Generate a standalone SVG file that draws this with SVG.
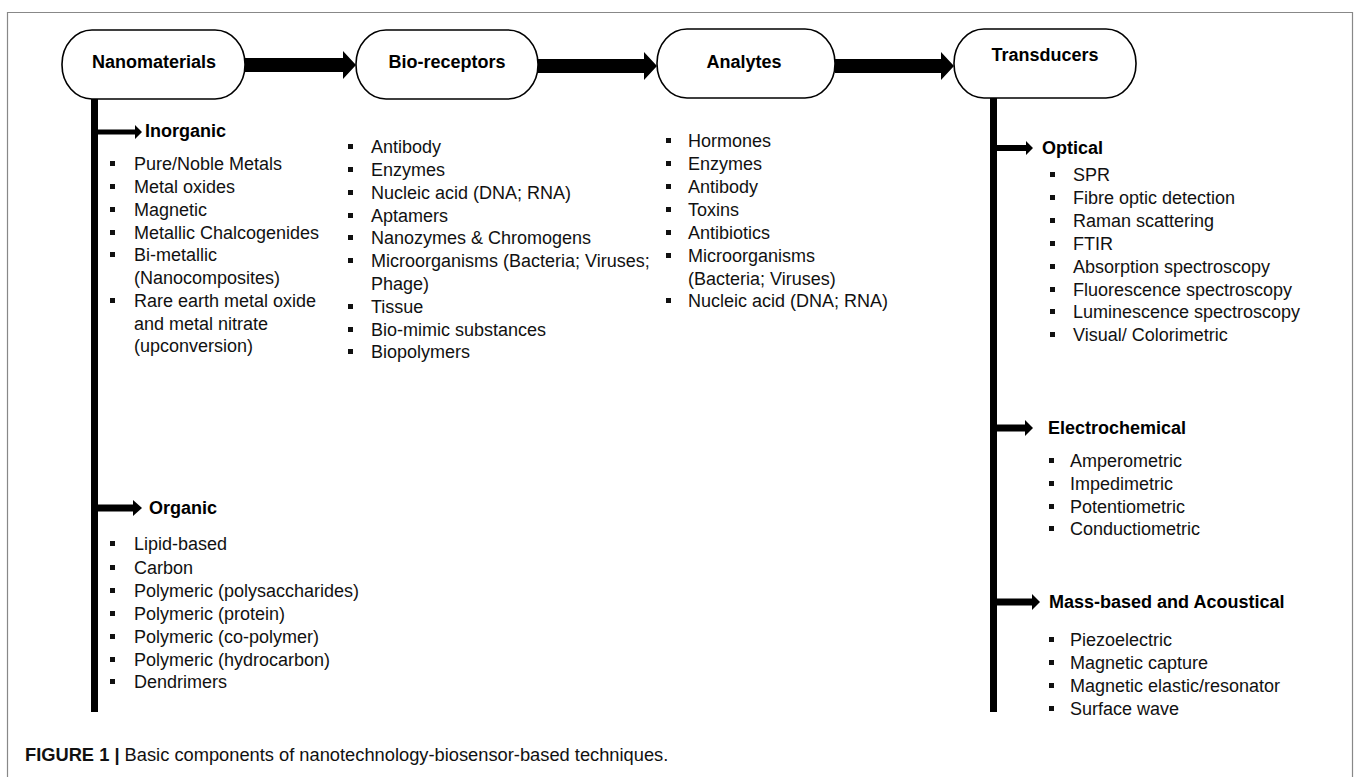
<svg xmlns="http://www.w3.org/2000/svg" width="1355" height="777" viewBox="0 0 1355 777">
<style>
.node{fill:#fff;stroke:#000;stroke-width:1.6}
.title{font-family:"Liberation Sans",Arial,sans-serif;font-size:18px;font-weight:bold;fill:#000;text-anchor:middle}
.head{font-family:"Liberation Sans",Arial,sans-serif;font-size:18px;font-weight:bold;fill:#000}
.item{font-family:"Liberation Sans",Arial,sans-serif;font-size:18px;fill:#111}
.cap{font-family:"Liberation Sans",Arial,sans-serif;font-size:18.3px;fill:#111}
.arr{fill:#000}
.frame{stroke:#888;stroke-width:1.2;fill:none}
</style>
<defs>
<rect id="b" width="5" height="5" fill="#111"/>
</defs>
<rect width="1355" height="777" fill="#fff"/>
<path class="frame" d="M7.5,790 V12.5 H1352.5 V790"/>

<g id="connectors">
  <polygon class="arr" points="244,58 343,58 343,51 356,65 343,79 343,72 244,72"/>
  <polygon class="arr" points="538,59 644,59 644,52 657,66 644,80 644,73 538,73"/>
  <polygon class="arr" points="835,59 941,59 941,52 954,66 941,80 941,73 835,73"/>
  <rect class="arr" x="91" y="99" width="7" height="613"/>
  <rect class="arr" x="990" y="98" width="7" height="614"/>
  <polygon class="arr" points="98,129.5 135,129.5 135,125 142,132 135,139 135,134.5 98,134.5"/>
  <polygon class="arr" points="98,504.5 133,504.5 133,500 142,508 133,516 133,511.5 98,511.5"/>
  <polygon class="arr" points="997,145 1026,145 1026,141 1033,148 1026,155 1026,151 997,151"/>
  <polygon class="arr" points="997,424.5 1025,424.5 1025,420 1033,428 1025,436 1025,431.5 997,431.5"/>
  <polygon class="arr" points="997,598.5 1032,598.5 1032,594 1040,602 1032,610 1032,605.5 997,605.5"/>
</g>

<g id="nanomaterials">
  <rect class="node" x="62" y="30" width="183" height="69" rx="30" ry="34"/>
  <text class="title" x="154" y="68">Nanomaterials</text>
</g>
<g id="bio-receptors">
  <rect class="node" x="356" y="30" width="182" height="69" rx="30" ry="34"/>
  <text class="title" x="447" y="68">Bio-receptors</text>
</g>
<g id="analytes">
  <rect class="node" x="657" y="29" width="178" height="69" rx="30" ry="34"/>
  <text class="title" x="744" y="68">Analytes</text>
</g>
<g id="transducers">
  <rect class="node" x="954" y="29" width="182" height="69" rx="30" ry="34"/>
  <text class="title" x="1045" y="61">Transducers</text>
</g>

<g id="inorganic">
  <text class="head" x="145" y="137">Inorganic</text>
  <use href="#b" x="110" y="161"/><text class="item" x="134" y="170">Pure/Noble Metals</text>
  <use href="#b" x="110" y="184"/><text class="item" x="134" y="193">Metal oxides</text>
  <use href="#b" x="110" y="207"/><text class="item" x="134" y="216">Magnetic</text>
  <use href="#b" x="110" y="230"/><text class="item" x="134" y="239">Metallic Chalcogenides</text>
  <use href="#b" x="110" y="252"/><text class="item" x="134" y="261">Bi-metallic</text>
  <text class="item" x="134" y="284">(Nanocomposites)</text>
  <use href="#b" x="110" y="298"/><text class="item" x="134" y="307">Rare earth metal oxide</text>
  <text class="item" x="134" y="330">and metal nitrate</text>
  <text class="item" x="134" y="352">(upconversion)</text>
</g>

<g id="organic">
  <text class="head" x="149" y="514">Organic</text>
  <use href="#b" x="110" y="541"/><text class="item" x="134" y="550">Lipid-based</text>
  <use href="#b" x="110" y="565"/><text class="item" x="134" y="574">Carbon</text>
  <use href="#b" x="110" y="588"/><text class="item" x="134" y="597">Polymeric (polysaccharides)</text>
  <use href="#b" x="110" y="611"/><text class="item" x="134" y="620">Polymeric (protein)</text>
  <use href="#b" x="110" y="634"/><text class="item" x="134" y="643">Polymeric (co-polymer)</text>
  <use href="#b" x="110" y="657"/><text class="item" x="134" y="666">Polymeric (hydrocarbon)</text>
  <use href="#b" x="110" y="679"/><text class="item" x="134" y="688">Dendrimers</text>
</g>

<g id="bio-receptor-list">
  <use href="#b" x="348" y="144"/><text class="item" x="371" y="153">Antibody</text>
  <use href="#b" x="348" y="167"/><text class="item" x="371" y="176">Enzymes</text>
  <use href="#b" x="348" y="190"/><text class="item" x="371" y="199">Nucleic acid (DNA; RNA)</text>
  <use href="#b" x="348" y="213"/><text class="item" x="371" y="222">Aptamers</text>
  <use href="#b" x="348" y="235"/><text class="item" x="371" y="244">Nanozymes &amp; Chromogens</text>
  <use href="#b" x="348" y="258"/><text class="item" x="371" y="267">Microorganisms (Bacteria; Viruses;</text>
  <text class="item" x="371" y="290">Phage)</text>
  <use href="#b" x="348" y="304"/><text class="item" x="371" y="313">Tissue</text>
  <use href="#b" x="348" y="327"/><text class="item" x="371" y="336">Bio-mimic substances</text>
  <use href="#b" x="348" y="349"/><text class="item" x="371" y="358">Biopolymers</text>
</g>

<g id="analyte-list">
  <use href="#b" x="666" y="138"/><text class="item" x="688" y="147">Hormones</text>
  <use href="#b" x="666" y="161"/><text class="item" x="688" y="170">Enzymes</text>
  <use href="#b" x="666" y="184"/><text class="item" x="688" y="193">Antibody</text>
  <use href="#b" x="666" y="207"/><text class="item" x="688" y="216">Toxins</text>
  <use href="#b" x="666" y="230"/><text class="item" x="688" y="239">Antibiotics</text>
  <use href="#b" x="666" y="253"/><text class="item" x="688" y="262">Microorganisms</text>
  <text class="item" x="688" y="285">(Bacteria; Viruses)</text>
  <use href="#b" x="666" y="298"/><text class="item" x="688" y="307">Nucleic acid (DNA; RNA)</text>
</g>

<g id="optical">
  <text class="head" x="1042" y="154">Optical</text>
  <use href="#b" x="1050" y="172"/><text class="item" x="1073" y="181">SPR</text>
  <use href="#b" x="1050" y="195"/><text class="item" x="1073" y="204">Fibre optic detection</text>
  <use href="#b" x="1050" y="218"/><text class="item" x="1073" y="227">Raman scattering</text>
  <use href="#b" x="1050" y="241"/><text class="item" x="1073" y="250">FTIR</text>
  <use href="#b" x="1050" y="264"/><text class="item" x="1073" y="273">Absorption spectroscopy</text>
  <use href="#b" x="1050" y="287"/><text class="item" x="1073" y="296">Fluorescence spectroscopy</text>
  <use href="#b" x="1050" y="309"/><text class="item" x="1073" y="318">Luminescence spectroscopy</text>
  <use href="#b" x="1050" y="332"/><text class="item" x="1073" y="341">Visual/ Colorimetric</text>
</g>

<g id="electrochemical">
  <text class="head" x="1048" y="434">Electrochemical</text>
  <use href="#b" x="1049" y="458"/><text class="item" x="1070" y="467">Amperometric</text>
  <use href="#b" x="1049" y="481"/><text class="item" x="1070" y="490">Impedimetric</text>
  <use href="#b" x="1049" y="504"/><text class="item" x="1070" y="513">Potentiometric</text>
  <use href="#b" x="1049" y="526"/><text class="item" x="1070" y="535">Conductiometric</text>
</g>

<g id="mass-based">
  <text class="head" x="1049" y="608">Mass-based and Acoustical</text>
  <use href="#b" x="1049" y="637"/><text class="item" x="1070" y="646">Piezoelectric</text>
  <use href="#b" x="1049" y="660"/><text class="item" x="1070" y="669">Magnetic capture</text>
  <use href="#b" x="1049" y="683"/><text class="item" x="1070" y="692">Magnetic elastic/resonator</text>
  <use href="#b" x="1049" y="706"/><text class="item" x="1070" y="715">Surface wave</text>
</g>

<g id="caption">
  <text class="cap" x="25" y="761"><tspan font-weight="bold">FIGURE 1 | </tspan>Basic components of nanotechnology-biosensor-based techniques.</text>
</g>
</svg>
